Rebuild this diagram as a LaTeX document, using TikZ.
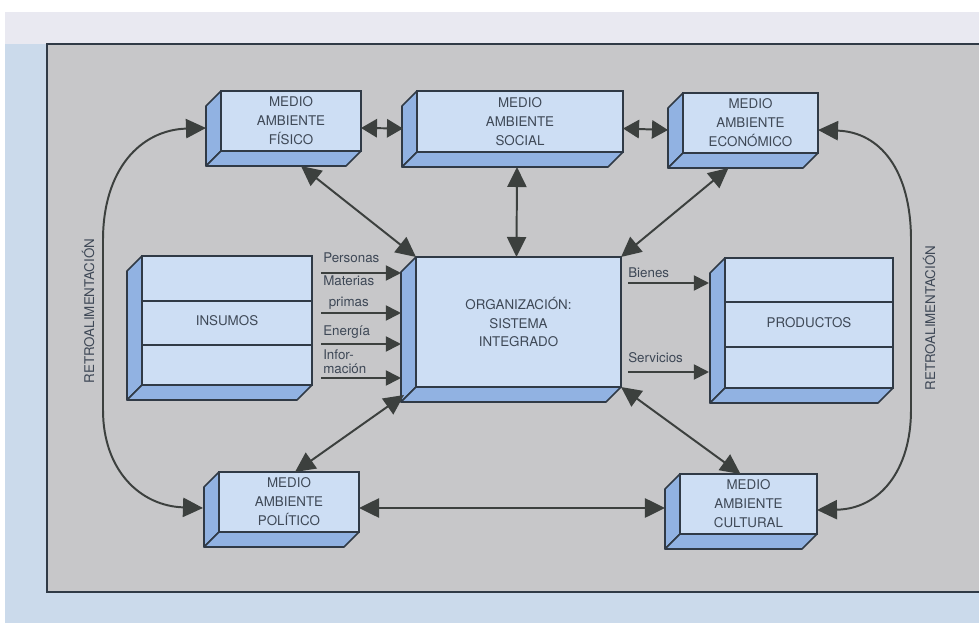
\documentclass[tikz,border=0pt]{standalone}
\usepackage{fontspec}
\setmainfont{TeX Gyre Heros}
\usepackage{tikz}
\usetikzlibrary{arrows.meta}
\definecolor{fondoazul}{RGB}{203, 218, 235}
\definecolor{fondolila}{RGB}{233, 233, 241}
\definecolor{grismarco}{RGB}{199, 199, 201}
\definecolor{azulcara}{RGB}{205, 222, 244}
\definecolor{azullado}{RGB}{145, 178, 226}
\definecolor{trazo}{RGB}{48, 58, 70}
\definecolor{flechagris}{RGB}{60, 64, 62}
\definecolor{textogris}{RGB}{62, 72, 86}

\begin{document}
\begin{tikzpicture}[x=0.025cm, y=-0.025cm,
  caja/.style={draw=trazo, line width=1.1pt, fill=azulcara, text=textogris, align=center,
    font=\fontsize{9.5}{13.5}\selectfont, inner sep=0pt, outer sep=0pt},
  lado/.style={draw=trazo, line width=1.1pt, fill=azullado, line join=round},
  flecha/.style={draw=flechagris, line width=1.4pt, -{Triangle[length=0.5cm,width=0.48cm]}},
  doble/.style={flecha, {Triangle[length=0.5cm,width=0.48cm]}-{Triangle[length=0.5cm,width=0.48cm]}},
  corta/.style={flecha, {Triangle[length=0.4cm,width=0.46cm]}-{Triangle[length=0.4cm,width=0.46cm]}},
  flechita/.style={draw=flechagris, line width=1.3pt, -{Triangle[length=0.38cm,width=0.38cm]}},
  etiqueta/.style={text=textogris, font=\fontsize{9.5}{10}\selectfont, inner sep=0pt}]

\useasboundingbox (0,0) rectangle (979,623);
\clip (0,0) rectangle (979,623);

% Page and grey frame
\fill[white] (0,0) rectangle (979,623);
\fill[fondoazul] (5,12) rectangle (979,623);
\fill[fondolila] (5,12) rectangle (979,44);
\filldraw[fill=grismarco, draw=trazo, line width=1.4pt] (47,44) rectangle (995,592);

% Front faces
\node[caja, minimum width=3.5cm, minimum height=1.5cm] (fisico) at (291,121) {MEDIO\\AMBIENTE\\FÍSICO};
\node[caja, minimum width=5.15cm, minimum height=1.525cm] (social) at (520,121.5) {MEDIO\\AMBIENTE\\SOCIAL};
\node[caja, minimum width=3.375cm, minimum height=1.5cm] (economico) at (750.5,123) {MEDIO\\AMBIENTE\\ECONÓMICO};
\node[caja, minimum width=4.25cm, minimum height=3.225cm] (insumos) at (227,320.5) {INSUMOS};
\node[caja, minimum width=5.125cm, minimum height=3.25cm] (organizacion) at (518.5,322) {ORGANIZACIÓN:\\SISTEMA\\INTEGRADO};
\node[caja, minimum width=4.2cm, minimum height=3.25cm] (productos) at (809,323) {PRODUCTOS};
\node[caja, minimum width=3.5cm, minimum height=1.5cm] (politico) at (289,502) {MEDIO\\AMBIENTE\\POLÍTICO};
\node[caja, minimum width=3.425cm, minimum height=1.5cm] (cultural) at (748.5,504) {MEDIO\\AMBIENTE\\CULTURAL};

% Side and bottom faces
\foreach \n in {fisico,social,economico,insumos,organizacion,productos,politico,cultural} {
  \filldraw[lado] (\n.north west) -- ++(-15,15) -- ([shift={(-15,15)}]\n.south west) -- (\n.south west) -- cycle;
  \filldraw[lado] (\n.south west) -- ++(-15,15) -- ([shift={(-15,15)}]\n.south east) -- (\n.south east) -- cycle;
}

% Bands of the two big boxes
\foreach \y in {301,345}
  \draw[trazo, line width=1.1pt] (insumos.west |- 0,\y) -- (insumos.east |- 0,\y);
\foreach \y in {302,347}
  \draw[trazo, line width=1.1pt] (productos.west |- 0,\y) -- (productos.east |- 0,\y);

% Inputs
\node[etiqueta, anchor=west] (personas) at (323,258) {Personas};
\node[etiqueta, anchor=west, align=center, font=\fontsize{9.5}{15}\selectfont] (materias) at (323,292.5) {Materias\\primas};
\node[etiqueta, anchor=west] (energia) at (323,332) {Energía};
\node[etiqueta, anchor=west, align=left, font=\fontsize{9.5}{10}\selectfont] (informacion) at (323,361.5) {Infor-\\mación};
\coordinate (entrada) at ([xshift=0.225cm]insumos.east);
\coordinate (llegada) at ([xshift=-0.375cm]organizacion.west);
\foreach \y in {273,313,344,378}
  \draw[flechita] (entrada |- 0,\y) -- (llegada |- 0,\y);

% Outputs
\node[etiqueta, anchor=west] (bienes) at (628,273) {Bienes};
\node[etiqueta, anchor=west] (servicios) at (628,358) {Servicios};
\coordinate (salida) at ([xshift=0.175cm]organizacion.east);
\coordinate (destino) at ([xshift=-0.4cm]productos.west);
\foreach \y in {283,372}
  \draw[flechita] (salida |- 0,\y) -- (destino |- 0,\y);

% Environments
\draw[corta] ([shift={(0,7)}]fisico.east) -- ([shift={(-14,7)}]social.west);
\draw[corta] ([shift={(0,7)}]social.east) -- ([shift={(-15,7)}]economico.west);
\draw[doble] ([shift={(10,15)}]fisico.south) -- (organizacion.north west);
\draw[doble] ([shift={(-3,15)}]social.south) -- ([shift={(-2,0)}]organizacion.north);
\draw[doble] ([shift={(-22,15)}]economico.south) -- (organizacion.north east);
\draw[doble] ([shift={(6,0)}]politico.north) -- ([shift={(-12,8)}]organizacion.south west);
\draw[doble] (organizacion.south east) -- ([shift={(-8,0)}]cultural.north);
\draw[doble] ([shift={(0,6)}]politico.east) -- ([shift={(-15,4)}]cultural.west);

% Feedback loops
\draw[doble] ([shift={(-15,7)}]fisico.west) .. controls (140,130) and (103,170) .. (103,240)
  -- (103,410) .. controls (103,470) and (140,506) .. ([shift={(-16,6)}]politico.west);
\draw[doble] ([shift={(0,7)}]economico.east) .. controls (880,132) and (911,170) .. (911,240)
  -- (911,410) .. controls (911,470) and (880,509) .. ([shift={(0,6)}]cultural.east);
\node[etiqueta, rotate=90] (retroizq) at (88,311) {RETROALIMENTACIÓN};
\node[etiqueta, rotate=90] (retroder) at (929,318) {RETROALIMENTACIÓN};

\end{tikzpicture}
\end{document}
